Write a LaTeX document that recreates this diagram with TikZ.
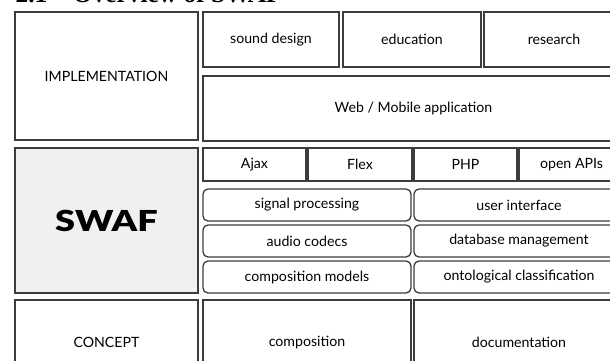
\documentclass[tikz,border=0pt]{standalone}
\usepackage{fontspec}
\setmainfont{Lato}
\newfontfamily\headfont{Liberation Serif}
\newfontfamily\heavyfont{Lato Black}[FakeStretch=1.25]
\usetikzlibrary{positioning}
\definecolor{Frame}{RGB}{60, 60, 60}
\definecolor{Core}{RGB}{240, 240, 240}

\begin{document}
\begin{tikzpicture}[
        x=1bp, y=-1bp,
        every node/.style={rectangle, draw=Frame, line width=1.3bp, inner sep=0pt, text centered, font=\fontsize{14.2}{16}\selectfont},
        pill/.style={rounded corners=5bp}
    ]
        \useasboundingbox (0,0) rectangle (610,360);

        % Heading (cut off by the page)
        \node[draw=none, anchor=base west, font=\headfont\bfseries\fontsize{25.5}{28}\selectfont] (head) at (15,2.5) {2.1\quad Overview of SWAF};

        % Implementation
        \node[minimum width=183bp, minimum height=128bp] (impl) at (106.5, 76) {IMPLEMENTATION};
        \node[minimum width=136bp, minimum height=55bp] (sound) at (271, 39.5) {sound design};
        \node[minimum width=138bp, minimum height=55bp] (edu) at (412, 39.5) {education};
        \node[minimum width=140bp, minimum height=55bp] (research) at (554, 39.5) {research};
        \node[minimum width=421bp, minimum height=65bp] (web) at (413.5, 108.5) {Web / Mobile application};

        % SWAF
        \node[fill=Core, minimum width=183bp, minimum height=145bp, font=\heavyfont\fontsize{29}{32}\selectfont] (swaf) at (106.5, 220.5) {SWAF};
        \node[minimum width=103bp, minimum height=33bp] (ajax) at (254.5, 164.5) {Ajax};
        \node[minimum width=104bp, minimum height=33bp] (flex) at (360, 164.5) {Flex};
        \node[minimum width=103bp, minimum height=33bp] (php) at (465.5, 164.5) {PHP};
        \node[minimum width=105bp, minimum height=33bp] (apis) at (571.5, 164.5) {open APIs};

        \node[pill, minimum width=208bp, minimum height=32bp] (signal) at (307, 205) {signal processing};
        \node[pill, minimum width=210bp, minimum height=32bp] (ui) at (519, 205) {user interface};
        \node[pill, minimum width=208bp, minimum height=32bp] (codecs) at (307, 241) {audio codecs};
        \node[pill, minimum width=210bp, minimum height=32bp] (dbm) at (519, 241) {database management};
        \node[pill, minimum width=208bp, minimum height=32bp] (models) at (307, 277) {composition models};
        \node[pill, minimum width=210bp, minimum height=32bp] (onto) at (519, 277) {ontological classification};

        % Concept
        \node[minimum width=183bp, minimum height=85bp] (concept) at (106.5, 342.5) {CONCEPT};
        \node[minimum width=208bp, minimum height=85bp] (comp) at (307, 342.5) {composition};
        \node[minimum width=210bp, minimum height=85bp] (doc) at (519, 342.5) {documentation};
    \end{tikzpicture}
\end{document}
